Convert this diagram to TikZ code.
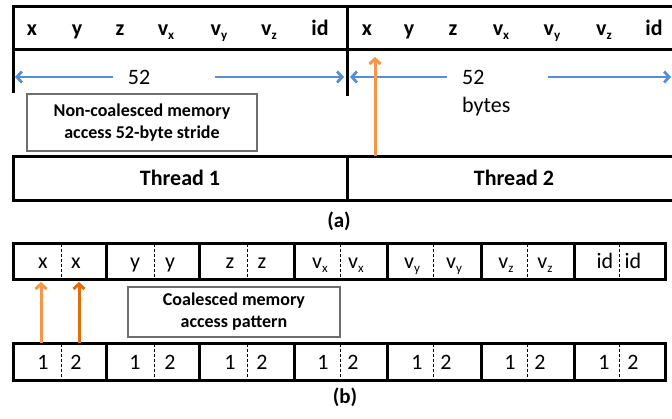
\documentclass[tikz,border=0pt]{standalone}
\usepackage{fontspec}
\setmainfont{Carlito}
\usetikzlibrary{arrows.meta}
\definecolor{arrblue}{RGB}{85,142,213}
\definecolor{lorange}{RGB}{247,150,70}
\definecolor{dorange}{RGB}{228,108,10}
\definecolor{boxgray}{RGB}{110,110,110}
\newcommand\sbx[1]{\raisebox{-0.35ex}{\fontsize{13}{13}\selectfont #1}}
\begin{document}
\begin{tikzpicture}[x=1pt,y=-1pt,
  frame/.style={line width=3pt,line cap=rect},
  divider/.style={line width=0.9pt,dash pattern=on 3pt off 2pt},
  toplab/.style={anchor=base,inner sep=0pt,font=\fontsize{22}{26}\selectfont\bfseries},
  reglab/.style={anchor=base,inner sep=0pt,font=\fontsize{22}{26}\selectfont},
  notebox/.style={draw=boxgray,line width=1.3pt,align=center,inner sep=0pt,
    font=\fontsize{18}{22}\selectfont\bfseries},
  bluearr/.style={draw=arrblue,line width=2.8pt,-{Straight Barb[length=5pt,width=11pt]}},
  orarr/.style={line width=3pt,-{Straight Barb[length=5pt,width=11pt]}}]
\useasboundingbox (0,0) rectangle (672,419);

% ---------- (a) ----------
\draw[frame] (13,7) -- (672,7);
\draw[frame] (13,50) -- (672,50);
\draw[frame] (13,7) -- (13,92);
\draw[frame] (347,7) -- (347,95);

\foreach \t/\xx/\nm in {x/32/ax1, y/77/ay1, z/120/az1, {v\sbx{x}}/166/avx1,
    {v\sbx{y}}/219/avy1, {v\sbx{z}}/269/avz1, id/320/aid1,
    x/367/ax2, y/409/ay2, z/453/az2, {v\sbx{x}}/501/avx2,
    {v\sbx{y}}/552/avy2, {v\sbx{z}}/604/avz2, id/654/aid2}
  \node[toplab] (\nm) at (\xx,36) {\t};

\node[reglab] (n52a) at (139,85) {52};
\node[reglab,anchor=base west] (n52b) at (462,85) {52};
\node[reglab,anchor=base west] (nbytes) at (462,113) {bytes};

\coordinate (a1l) at (113,77);
\coordinate (a1lt) at (15,77);
\coordinate (a1r) at (215,77);
\coordinate (a1rt) at (344,77);
\coordinate (a2l) at (447,77);
\coordinate (a2lt) at (350,77);
\coordinate (a2r) at (548,77);
\coordinate (a2rt) at (671,77);
\draw[bluearr] (a1l) -- (a1lt);
\draw[bluearr] (a1r) -- (a1rt);
\draw[bluearr] (a2l) -- (a2lt);
\draw[bluearr] (a2r) -- (a2rt);

\node[notebox,minimum width=230pt,minimum height=57pt] (nc) at (142,122.5)
  {Non-coalesced memory\\access 52-byte stride};

\draw[frame] (672,157) -- (13,157) -- (13,201) -- (672,201);
\draw[frame] (347,157) -- (347,201);
\node[toplab] (t1) at (180,186) {Thread 1};
\node[toplab] (t2) at (514,186) {Thread 2};

\coordinate (oa0) at (375,156);
\coordinate (oa1) at (375,57);
\draw[orarr,lorange] (oa0) -- (oa1);

\node[inner sep=0pt,font=\fontsize{21}{25}\selectfont\bfseries] (capa) at (339,221) {(a)};

% ---------- (b) ----------
\draw[frame] (13,244) rectangle (665,280);
\draw[frame] (13,344) rectangle (665,381);
\foreach \xx in {106,199,294,387,481,574}{
  \draw[frame] (\xx,244) -- (\xx,280);
  \draw[frame] (\xx,344) -- (\xx,381);
}
\foreach \xx in {61,154,247,340,433,527,619}{
  \draw[divider] (\xx,244) -- (\xx,280);
  \draw[divider] (\xx,344) -- (\xx,381);
}

\foreach \t/\xx/\nm in {x/43/bx1, x/76/bx2, y/135/by1, y/170/by2, z/230/bz1, z/262/bz2,
    {v\sbx{x}}/320/bvx1, {v\sbx{x}}/356/bvx2, {v\sbx{y}}/412/bvy1, {v\sbx{y}}/454/bvy2,
    {v\sbx{z}}/506/bvz1, {v\sbx{z}}/545/bvz2, id/605/bid1, id/633/bid2}
  \node[reglab] (\nm) at (\xx,269) {\t};

\foreach \t/\xx/\nm in {1/43/c1, 2/76/c2, 1/135/c3, 2/170/c4, 1/230/c5, 2/262/c6,
    1/323/c7, 2/353/c8, 1/417/c9, 2/446/c10, 1/510/c11, 2/540/c12, 1/604/c13, 2/633/c14}
  \node[reglab] (\nm) at (\xx,370) {\t};

\coordinate (ob1s) at (41,343);
\coordinate (ob1e) at (41,282);
\coordinate (ob2s) at (79,343);
\coordinate (ob2e) at (79,282);
\draw[orarr,lorange] (ob1s) -- (ob1e);
\draw[orarr,dorange] (ob2s) -- (ob2e);

\node[notebox,minimum width=212pt,minimum height=50pt] (co) at (234,312)
  {Coalesced memory\\access pattern};

\node[inner sep=0pt,font=\fontsize{21}{25}\selectfont\bfseries] (capb) at (345,397) {(b)};
\end{tikzpicture}
\end{document}
